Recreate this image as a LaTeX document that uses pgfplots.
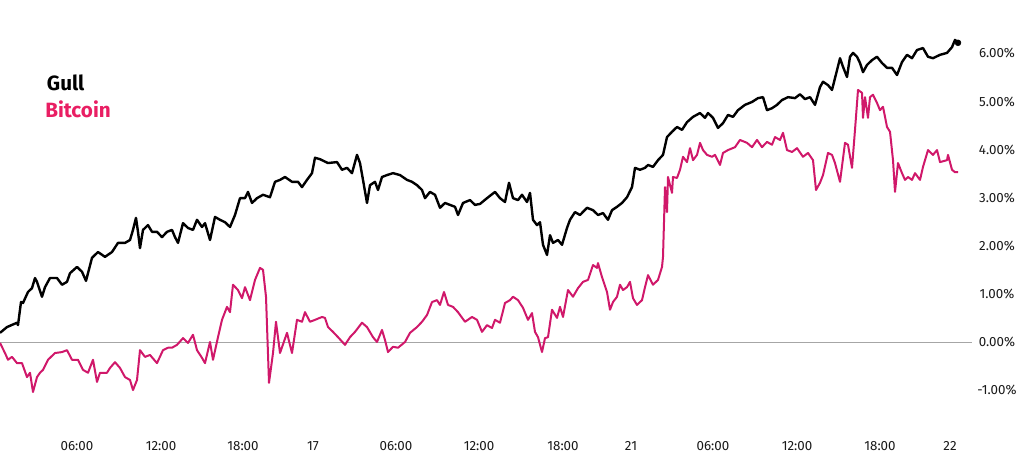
\documentclass[border=0pt]{standalone}
\usepackage{pgfplots}
\pgfplotsset{compat=1.18}
\usepackage{fontspec}
\setmainfont{Fira Sans}
\definecolor{btc}{HTML}{D0186A}
\definecolor{btclab}{HTML}{E91E63}
\definecolor{lab}{HTML}{1A1A1A}
\begin{document}
\begin{tikzpicture}
\path[use as bounding box] (0,0) rectangle (768pt,340.5pt);
\begin{axis}[
  at={(0pt,340.5pt)}, anchor=north west,
  scale only axis, width=729pt, height=322.5pt,
  xmin=0, xmax=972, ymin=-1.83, ymax=7.11,
  axis line style={draw=none},
  major tick length=0pt,
  xtick={77,161,243,313,396,479,563,631,713,797,880,950},
  xticklabels={06:00,12:00,18:00,17,06:00,12:00,18:00,21,06:00,12:00,18:00,22},
  xticklabel style={anchor=center, yshift=-12pt},
  ytick={-1,0,1,2,3,4,5,6},
  yticklabels={-1.00\%,0.00\%,1.00\%,2.00\%,3.00\%,4.00\%,5.00\%,6.00\%},
  yticklabel pos=right,
  yticklabel style={anchor=center, xshift=18.75pt},
  ticklabel style={font=\fontsize{10}{11}\selectfont, text=lab},
]
\addplot[gray!70, line width=0.7pt, forget plot] coordinates {(0,0) (972,0)};
% Bitcoin
\addplot[btc, line width=1.5pt, line join=round] coordinates {
(0,-0.02) (5,-0.23) (8,-0.37) (12,-0.31) (17,-0.44) (22,-0.44) (27,-0.73) (30,-0.64) (33,-1.04) (37,-0.73)
(40,-0.64) (43,-0.58) (48,-0.37) (55,-0.23) (62,-0.21) (67,-0.17) (72,-0.37) (78,-0.37) (83,-0.58) (88,-0.64)
(93,-0.37) (97,-0.83) (100,-0.64) (107,-0.64) (110,-0.54) (115,-0.42) (120,-0.54) (125,-0.73) (130,-0.79) (133,-1.00)
(137,-0.79) (140,-0.17) (145,-0.31) (150,-0.27) (157,-0.44) (163,-0.17) (168,-0.12) (172,-0.12) (177,-0.06) (183,0.08)
(188,-0.02) (193,0.15) (197,-0.17) (202,-0.33) (205,-0.44) (210,0.00) (213,-0.37) (218,0.10) (222,0.46) (227,0.73)
(230,0.62) (233,1.19) (238,1.08) (242,0.91) (245,1.14) (250,0.87) (255,1.29) (260,1.54) (263,1.50) (266,0.94)
(269,-0.85) (273,-0.23) (276,0.42) (280,-0.23) (287,0.19) (292,-0.23) (297,0.46) (302,0.42) (305,0.62) (310,0.42)
(315,0.46) (322,0.52) (325,0.50) (328,0.31) (333,0.21) (338,0.10) (345,-0.06) (350,0.10) (355,0.21) (362,0.40)
(367,0.31) (373,0.10) (377,0.00) (382,0.25) (385,0.04) (388,-0.21) (393,-0.10) (398,-0.12) (405,0.00) (410,0.19)
(417,0.31) (422,0.42) (427,0.56) (432,0.83) (437,0.87) (440,0.77) (444,1.04) (448,0.77) (453,0.73) (458,0.62)
(465,0.42) (472,0.52) (477,0.46) (482,0.21) (487,0.35) (492,0.29) (495,0.46) (500,0.40) (505,0.81) (510,0.87)
(513,0.94) (518,0.87) (523,0.71) (528,0.46) (532,0.60) (535,0.21) (538,0.10) (542,-0.21) (545,0.08) (548,0.10)
(552,0.67) (557,0.50) (560,0.73) (563,0.52) (568,1.08) (573,0.94) (578,1.12) (583,1.25) (588,1.29) (593,1.60)
(597,1.54) (598,1.64) (602,1.35) (607,1.04) (610,0.67) (613,0.83) (617,0.94) (620,1.19) (623,1.08) (627,1.14)
(630,1.25) (633,0.91) (637,0.77) (642,0.87) (645,1.14) (648,1.39) (653,1.19) (658,1.29) (662,1.56) (663,1.77)
(665,3.22) (667,2.70) (668,3.43) (672,3.10) (673,3.43) (677,3.41) (680,3.58) (683,3.85) (687,3.74) (690,4.03)
(693,3.78) (697,3.89) (700,4.14) (703,3.99) (707,3.89) (712,3.85) (715,3.89) (720,3.68) (723,3.93) (728,3.99)
(735,4.05) (740,4.20) (747,4.14) (752,4.05) (757,4.20) (762,4.05) (767,4.16) (772,4.10) (775,4.26) (780,4.20)
(783,4.35) (787,3.99) (792,3.95) (797,4.03) (803,3.85) (808,3.93) (813,3.78) (816,3.16) (820,3.31) (823,3.47)
(828,3.93) (832,3.89) (835,3.72) (840,3.33) (845,4.14) (848,4.10) (852,3.62) (855,4.41) (858,5.24) (862,5.18)
(863,4.66) (865,5.09) (868,4.66) (870,5.09) (873,5.14) (877,4.97) (880,4.82) (883,4.89) (887,4.47) (890,4.37)
(893,3.78) (895,3.12) (898,3.72) (902,3.51) (905,3.37) (908,3.43) (912,3.37) (915,3.51) (920,3.37) (923,3.64)
(928,3.99) (933,3.89) (937,3.99) (940,3.74) (947,3.78) (948,3.89) (952,3.58) (955,3.53) (958,3.53)
};
% Gull
\addplot[black, line width=1.8pt, line join=round] coordinates {
(0,0.19) (7,0.31) (17,0.40) (18,0.35) (21,0.83) (23,0.81) (28,1.04) (32,1.12) (35,1.33) (37,1.25)
(42,0.94) (45,1.14) (50,1.33) (57,1.33) (62,1.19) (67,1.25) (70,1.43) (77,1.56) (82,1.46) (86,1.27)
(92,1.75) (98,1.87) (105,1.77) (112,1.87) (118,2.06) (125,2.06) (130,2.12) (133,2.33) (136,2.58) (138,2.29)
(140,1.95) (143,2.33) (148,2.43) (152,2.29) (157,2.29) (162,2.18) (167,2.29) (172,2.33) (175,2.18) (178,2.06)
(183,2.47) (188,2.37) (193,2.33) (197,2.54) (202,2.39) (205,2.47) (210,2.12) (215,2.60) (220,2.54) (225,2.49)
(230,2.39) (235,2.64) (240,2.99) (245,2.99) (248,3.12) (252,2.89) (257,2.99) (263,3.06) (270,3.01) (275,3.33)
(280,3.37) (285,3.43) (292,3.33) (298,3.33) (302,3.22) (307,3.37) (312,3.51) (315,3.83) (320,3.80) (328,3.72)
(337,3.74) (342,3.58) (347,3.62) (352,3.51) (357,3.89) (360,3.72) (363,3.37) (367,2.89) (370,3.26) (375,3.33)
(378,3.16) (382,3.43) (387,3.47) (393,3.51) (400,3.47) (407,3.37) (412,3.33) (417,3.26) (422,3.16) (425,2.99)
(430,3.12) (435,3.06) (440,2.79) (445,2.89) (450,2.85) (455,2.81) (458,2.64) (463,2.89) (470,2.95) (475,2.85)
(480,2.87) (487,2.99) (495,3.12) (500,2.99) (505,2.91) (509,3.31) (513,2.99) (518,2.95) (522,3.06) (527,2.91)
(530,3.10) (533,2.54) (537,2.43) (540,2.49) (543,2.02) (547,1.81) (550,2.22) (553,2.06) (558,2.12) (562,2.02)
(567,2.37) (570,2.54) (575,2.70) (580,2.64) (587,2.79) (593,2.74) (598,2.64) (603,2.68) (608,2.54) (612,2.74)
(617,2.81) (622,2.89) (627,3.01) (632,3.22) (635,3.62) (640,3.58) (645,3.62) (648,3.68) (653,3.64) (658,3.78)
(663,3.89) (667,4.26) (672,4.37) (677,4.47) (682,4.41) (687,4.57) (693,4.68) (700,4.76) (705,4.66) (708,4.76)
(713,4.66) (718,4.45) (723,4.55) (728,4.72) (733,4.68) (738,4.82) (745,4.93) (752,4.99) (758,5.07) (763,5.09)
(767,4.82) (772,4.86) (777,4.93) (782,5.03) (788,5.09) (795,5.07) (800,5.15) (805,5.05) (810,5.09) (815,4.93)
(820,5.30) (823,5.41) (828,5.34) (832,5.24) (837,5.65) (840,5.90) (843,5.72) (847,5.51) (850,5.93) (853,6.01)
(857,5.93) (860,5.80) (863,5.61) (867,5.76) (872,5.86) (877,5.93) (882,5.80) (887,5.70) (892,5.70) (897,5.55)
(902,5.82) (907,5.97) (912,5.90) (917,6.07) (923,6.11) (928,5.93) (933,5.90) (940,5.97) (947,6.01) (952,6.13)
(955,6.28) (958,6.22)
};
\addplot[black, only marks, mark=*, mark size=2.2pt, forget plot] coordinates {(958,6.22)};
\end{axis}
\node[anchor=west, inner sep=0pt, font=\fontsize{15.5}{16}\selectfont\bfseries, text=black] at (35pt,278.25pt) {Gull};
\node[anchor=west, inner sep=0pt, font=\fontsize{15.5}{16}\selectfont\bfseries, text=btclab] at (33.75pt,258.75pt) {Bitcoin};
\end{tikzpicture}
\end{document}
